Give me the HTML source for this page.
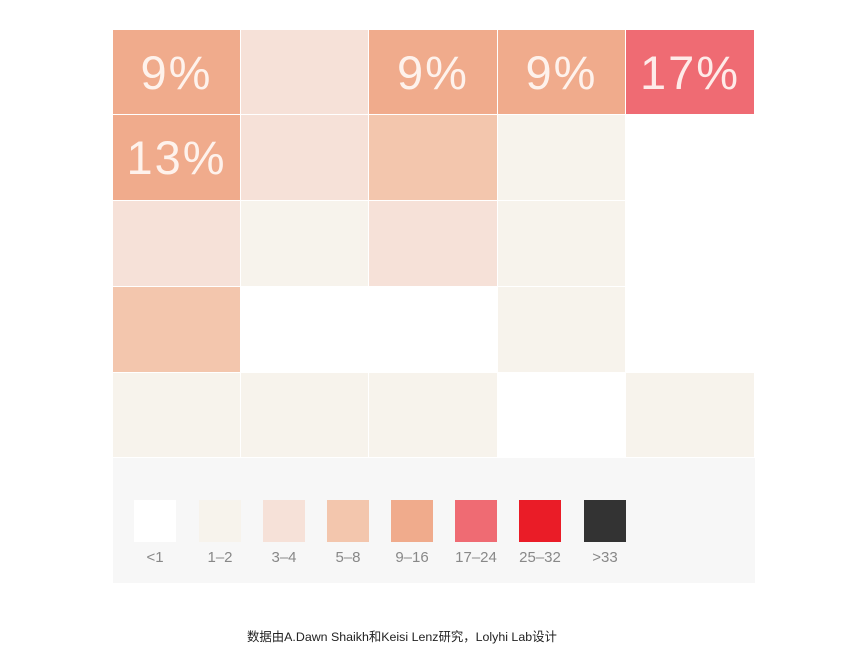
<!DOCTYPE html>
<html><head><meta charset="utf-8"><style>
body{margin:0;width:850px;height:671px;background:#fff;position:relative;overflow:hidden;font-family:"Liberation Sans","Noto Sans CJK SC",sans-serif}
.c{position:absolute;display:flex;align-items:center;justify-content:center;color:rgba(255,250,246,0.9);font-size:47px;font-weight:300;letter-spacing:2px}
.a{background:#f7f3ec}.b{background:#f6e1d8}.d{background:#f3c6ad}.e{background:#f0ab8c}.f{background:#ef6b73}.w{background:#fff}
.lg{position:absolute;left:113px;top:458px;width:642px;height:125px;background:#f7f7f7}
.s{position:absolute;width:42px;height:42px;top:500px}
.l{position:absolute;top:549px;width:64px;text-align:center;font-size:15px;color:#888}
.cap{position:absolute;top:627px;left:247px;font-size:12.4px;color:#222;white-space:nowrap}
</style></head><body>
<div id="g"></div>
<div class="lg"></div>
<div class="s w" style="left:134px"></div>
<div class="s a" style="left:199px"></div>
<div class="s b" style="left:263px"></div>
<div class="s d" style="left:327px"></div>
<div class="s e" style="left:391px"></div>
<div class="s f" style="left:455px"></div>
<div class="s" style="left:519px;background:#ea1c27"></div>
<div class="s" style="left:584px;background:#333"></div>
<div class="l" style="left:123px">&lt;1</div>
<div class="l" style="left:188px">1–2</div>
<div class="l" style="left:252px">3–4</div>
<div class="l" style="left:316px">5–8</div>
<div class="l" style="left:380px">9–16</div>
<div class="l" style="left:444px">17–24</div>
<div class="l" style="left:508px">25–32</div>
<div class="l" style="left:573px">&gt;33</div>
<div class="cap">数据由A.Dawn Shaikh和Keisi Lenz研究，Lolyhi Lab设计</div>
<script>
var xs=[113,241,369,498,626,755],ys=[30,115,201,287,373,458];
var m=[["e","b","e","e","f"],["e","b","d","a","w"],["b","a","b","a","w"],["d","w","w","a","w"],["a","a","a","w","a"]];
var t={"0,0":"9%","0,2":"9%","0,3":"9%","0,4":"17%","1,0":"13%"};
var h="";
for(var r=0;r<5;r++)for(var c=0;c<5;c++){
h+='<div class="c '+m[r][c]+'" style="left:'+xs[c]+'px;top:'+ys[r]+'px;width:'+(xs[c+1]-xs[c]-1)+'px;height:'+(ys[r+1]-ys[r]-1)+'px">'+(t[r+","+c]||"")+'</div>';}
document.getElementById("g").innerHTML=h;
</script>
</body></html>
